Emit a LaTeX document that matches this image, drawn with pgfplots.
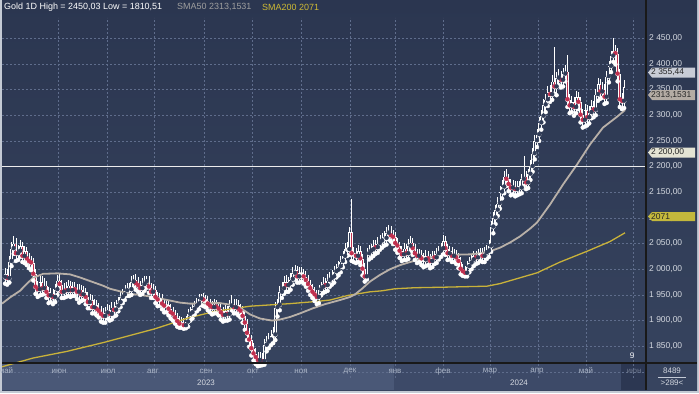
\documentclass[border=0pt]{standalone}
\usepackage{fontspec}
\setmainfont{Liberation Sans}
\usepackage{pgfplots}
\usepackage{pgfplotstable}
\pgfplotsset{compat=1.18}
\definecolor{frame}{HTML}{C4CAD4}
\definecolor{bgtop}{HTML}{2B3650}
\definecolor{bgbot}{HTML}{37445F}
\definecolor{bgmid}{HTML}{313D58}
\definecolor{band23}{HTML}{4A5877}
\definecolor{band24}{HTML}{3D4A68}
\definecolor{junbox}{HTML}{2C3752}
\definecolor{gridc}{HTML}{5F6D8C}
\definecolor{candred}{HTML}{C0304F}
\definecolor{sma50}{HTML}{B8B0A8}
\definecolor{sma200}{HTML}{C9B23A}
\definecolor{ticktext}{HTML}{D4D8E0}
\definecolor{monthtext}{HTML}{A9B3C5}
\definecolor{tagA}{HTML}{C8CCD6}
\definecolor{tagB}{HTML}{B4ACA4}
\definecolor{tagC}{HTML}{E4E4D4}
\definecolor{tagD}{HTML}{C4B83C}
\pgfplotstableread{
o h l c
1984 2002 1972 1990
1990 2001 1970 1982
1982 2026 1974 2015
2015 2054 2006 2040
2040 2064 2030 2050
2050 2060 2016 2030
2030 2048 2018 2035
2035 2056 2024 2045
2045 2054 2014 2025
2025 2046 2012 2035
2035 2044 2008 2020
2020 2032 2002 2015
2015 2026 1998 2012
2012 2022 1978 1990
1990 2000 1952 1965
1965 1978 1946 1960
1960 1988 1949 1975
1975 1986 1950 1962
1962 1982 1952 1968
1968 1978 1944 1955
1955 1966 1934 1948
1948 1964 1936 1952
1952 1962 1932 1945
1945 1971 1936 1960
1960 1988 1950 1978
1978 1991 1958 1970
1970 1980 1944 1955
1955 1974 1944 1962
1962 1976 1946 1958
1958 1980 1948 1968
1968 1978 1946 1958
1958 1976 1948 1965
1965 1976 1948 1960
1960 1972 1942 1955
1955 1972 1935 1960
1960 1970 1938 1950
1950 1968 1940 1955
1955 1964 1932 1945
1945 1956 1924 1935
1935 1952 1924 1940
1940 1950 1914 1925
1925 1942 1914 1930
1930 1940 1910 1922
1922 1934 1906 1918
1918 1928 1898 1912
1912 1924 1896 1908
1908 1926 1896 1915
1915 1932 1904 1920
1920 1930 1900 1912
1912 1936 1902 1925
1925 1936 1908 1920
1920 1940 1910 1928
1928 1946 1918 1935
1935 1956 1926 1945
1945 1962 1934 1950
1950 1970 1940 1958
1958 1974 1948 1962
1962 1974 1948 1960
1960 1986 1950 1975
1975 1988 1964 1980
1980 1990 1960 1972
1972 1984 1956 1968
1968 1978 1950 1962
1962 1982 1952 1970
1970 1986 1958 1975
1975 1987 1964 1978
1978 1986 1954 1965
1965 1974 1944 1955
1955 1972 1944 1960
1960 1968 1934 1945
1945 1956 1928 1940
1940 1954 1929 1942
1942 1952 1922 1932
1932 1942 1916 1928
1928 1942 1916 1930
1930 1940 1910 1922
1922 1932 1904 1915
1915 1926 1900 1912
1912 1921 1894 1905
1905 1914 1888 1898
1898 1908 1886 1893
1893 1906 1886 1895
1895 1905 1884 1890
1890 1908 1885 1897
1897 1922 1888 1912
1912 1926 1900 1915
1915 1934 1904 1922
1922 1938 1912 1928
1928 1944 1918 1932
1932 1952 1922 1942
1942 1952 1930 1945
1945 1954 1928 1940
1940 1950 1926 1938
1938 1948 1920 1932
1932 1942 1916 1928
1928 1938 1912 1925
1925 1942 1914 1930
1930 1940 1914 1926
1926 1936 1910 1922
1922 1932 1902 1915
1915 1926 1898 1910
1910 1930 1900 1918
1918 1928 1900 1912
1912 1940 1902 1928
1928 1950 1918 1932
1932 1942 1914 1925
1925 1942 1914 1930
1930 1940 1910 1922
1922 1932 1906 1918
1918 1928 1896 1908
1908 1918 1882 1895
1895 1904 1862 1875
1875 1886 1849 1862
1862 1872 1832 1845
1845 1856 1822 1835
1835 1846 1815 1828
1828 1838 1811 1822
1822 1838 1812 1825
1825 1836 1813 1820
1820 1864 1814 1852
1852 1870 1840 1858
1858 1876 1846 1862
1862 1882 1852 1870
1870 1888 1856 1872
1872 1936 1862 1925
1925 1942 1908 1930
1930 1968 1920 1955
1955 1976 1944 1962
1962 1986 1952 1975
1975 1988 1956 1968
1968 1984 1956 1972
1972 1992 1960 1980
1980 2004 1970 1992
1992 2008 1980 1998
1998 2006 1974 1985
1985 2004 1974 1992
1992 2004 1976 1990
1990 2000 1972 1985
1985 1996 1966 1978
1978 1988 1958 1970
1970 1980 1950 1962
1962 1972 1944 1955
1955 1966 1938 1950
1950 1960 1932 1945
1945 1970 1934 1960
1960 1976 1949 1965
1965 1984 1954 1972
1972 1982 1956 1968
1968 1990 1958 1978
1978 1994 1966 1982
1982 1998 1970 1985
1985 2006 1974 1995
1995 2010 1984 1998
1998 2016 1988 2005
2005 2026 1994 2015
2015 2036 2004 2025
2025 2052 2014 2040
2040 2054 2026 2038
2038 2082 2028 2072
2072 2136 2016 2030
2030 2044 2014 2028
2028 2042 2012 2025
2025 2048 2014 2035
2035 2046 2008 2020
2020 2030 1988 2000
2000 2012 1976 1985
1985 2042 1980 2030
2030 2048 2019 2035
2035 2050 2022 2038
2038 2056 2026 2045
2045 2056 2030 2042
2042 2062 2032 2050
2050 2066 2038 2055
2055 2070 2042 2058
2058 2074 2046 2060
2060 2082 2048 2070
2070 2087 2058 2075
2075 2084 2054 2065
2065 2076 2049 2062
2062 2072 2038 2050
2050 2061 2032 2045
2045 2054 2022 2035
2035 2046 2016 2028
2028 2052 2018 2040
2040 2050 2018 2030
2030 2058 2020 2045
2045 2064 2034 2052
2052 2061 2028 2040
2040 2050 2018 2030
2030 2040 2012 2025
2025 2040 2014 2028
2028 2038 2008 2020
2020 2032 2004 2018
2018 2038 2006 2025
2025 2036 2008 2020
2020 2030 2002 2015
2015 2036 2004 2025
2025 2036 2010 2022
2022 2042 2012 2030
2030 2046 2019 2035
2035 2052 2024 2040
2040 2067 2030 2055
2055 2064 2028 2040
2040 2050 2018 2030
2030 2046 2019 2035
2035 2044 2014 2025
2025 2040 2014 2028
2028 2038 2010 2022
2022 2032 2002 2015
2015 2024 1990 2000
2000 2010 1987 1995
1995 2006 1986 1992
1992 2016 1986 2005
2005 2024 1994 2012
2012 2030 2000 2018
2018 2036 2006 2025
2025 2036 2010 2022
2022 2040 2012 2028
2028 2042 2016 2030
2030 2042 2014 2025
2025 2044 2014 2032
2032 2048 2020 2035
2035 2056 2024 2045
2045 2094 2034 2082
2082 2112 2070 2100
2100 2126 2088 2115
2115 2140 2104 2128
2128 2162 2118 2150
2150 2174 2138 2160
2160 2192 2148 2180
2180 2195 2162 2175
2175 2186 2152 2165
2165 2176 2144 2158
2158 2174 2146 2162
2162 2172 2142 2155
2155 2172 2144 2160
2160 2172 2146 2158
2158 2186 2148 2175
2175 2220 2162 2180
2180 2192 2156 2168
2168 2196 2158 2185
2185 2212 2174 2200
2200 2236 2190 2225
2225 2262 2214 2250
2250 2274 2238 2262
2262 2296 2250 2285
2285 2310 2272 2298
2298 2332 2286 2320
2320 2342 2306 2330
2330 2356 2318 2345
2345 2358 2326 2340
2340 2378 2330 2365
2365 2432 2342 2355
2355 2384 2339 2372
2372 2390 2359 2375
2375 2386 2354 2368
2368 2392 2356 2380
2380 2398 2366 2385
2385 2418 2316 2330
2330 2342 2304 2318
2318 2338 2306 2325
2325 2336 2299 2315
2315 2348 2304 2335
2335 2346 2312 2325
2325 2336 2286 2300
2300 2312 2276 2290
2290 2322 2278 2310
2310 2320 2280 2295
2295 2318 2284 2305
2305 2330 2294 2318
2318 2328 2296 2310
2310 2352 2300 2340
2340 2372 2328 2360
2360 2370 2332 2345
2345 2364 2334 2350
2350 2360 2322 2335
2335 2386 2324 2375
2375 2406 2364 2395
2395 2426 2384 2415
2415 2450 2404 2425
2425 2436 2399 2420
2420 2430 2366 2380
2380 2390 2316 2330
2330 2344 2312 2327
2327 2368 2314 2355
}\gold
\pgfplotstablecreatecol[create col/expr={5+2.18*\pgfplotstablerow}]{x}\gold
\pgfplotstablecreatecol[create col/expr={min(\thisrow{o},\thisrow{c})}]{bl}\gold
\pgfplotstablecreatecol[create col/expr={abs(\thisrow{c}-\thisrow{o})}]{bh}\gold
\pgfplotstablecreatecol[create col/expr={\thisrow{h}-\thisrow{l}}]{wr}\gold
\pgfplotstablecreatecol[create col/expr={\thisrow{o}-\thisrow{c}}]{dn}\gold

\begin{document}
\begin{tikzpicture}[x=1bp,y=1bp]
\useasboundingbox (0,0) rectangle (699,393);
\fill[frame] (0,0) rectangle (699,393);
\shade[top color=bgtop, bottom color=bgbot] (2,3) rectangle (697,393);
\fill[band23] (2,3) rectangle (394,30);
\fill[band24] (394,3) rectangle (621,30);
\fill[junbox] (621,3) rectangle (646,30);

\begin{axis}[at={(2,30)}, anchor=south west, scale only axis,
  width=644bp, height=360bp,
  xmin=2, xmax=646, ymin=1788.9, ymax=2490.2,
  axis line style={draw=none}, major tick length=0pt,
  grid=major, major grid style={color=gridc, dash pattern=on 2bp off 2bp, line width=0.6bp},
  xtick={58,107,154,204,252.7,301.7,350,395.7,443.3,490,538,586,633},
  xticklabels={},
  ytick={1800,1850,...,2450},
  yticklabels={{},{1 850,00},{1 900,00},{1 950,00},{2 000,00},{2 050,00},{2 100,00},{2 150,00},{2 200,00},{2 250,00},{2 300,00},{2 350,00},{2 400,00},{2 450,00}},
  yticklabel pos=right,
  yticklabel style={anchor=west, inner sep=0pt, xshift=3bp, text=ticktext, font=\fontsize{8.5}{10}\selectfont},
]
% wicks
\addplot[white, only marks, mark=none, forget plot,
  error bars/.cd, y dir=plus, y explicit, error mark=none,
  error bar style={color=white, line width=0.7bp}]
  table[x=x, y=l, y error plus=wr] {\gold};
% bodies
\addplot[white, only marks, mark=none, forget plot,
  error bars/.cd, y dir=plus, y explicit, error mark=none,
  error bar style={color=white, line width=2.6bp}]
  table[x=x, y=bl, y error plus=bh] {\gold};
% down interiors
\addplot[candred, only marks, mark=none, forget plot,
  restrict expr to domain={\thisrow{dn}}{2.5:3000},
  error bars/.cd, y dir=plus, y explicit, error mark=none,
  error bar style={color=candred, line width=0.9bp}]
  table[x=x, y expr=\thisrow{c}+1.2, y error plus expr=\thisrow{dn}-2.4] {\gold};
% up interiors
\addplot[bgmid, only marks, mark=none, forget plot,
  restrict expr to domain={\thisrow{dn}}{-3000:-2.5},
  error bars/.cd, y dir=plus, y explicit, error mark=none,
  error bar style={color=bgmid, line width=0.8bp}]
  table[x=x, y expr=\thisrow{o}+1.2, y error plus expr=-\thisrow{dn}-2.4] {\gold};
% SMA200
\addplot[sma200, line width=1.3bp, mark=none] coordinates {
(2,1810)(33,1827)(67,1840)(105,1858)(155,1884)(188,1905)(215,1918)(250,1928)(290,1933)(315,1937)(330,1940)(348,1949)(370,1956)(382,1958)(395,1962)(415,1964)(443,1965)(487,1967)(500,1972)(537,1993)(560,2014)(587,2035)(610,2054)(625,2071)};
% SMA50
\addplot[sma50, line width=1.8bp, mark=none] coordinates {
(2,1933)(10,1945)(20,1958)(27,1972)(33,1983)(43,1991)(57,1992)(70,1990)(80,1984)(90,1977)(103,1968)(110,1962)(120,1957)(130,1952)(140,1950)(150,1947)(160,1943)(170,1939)(180,1935)(190,1933)(200,1933)(210,1934)(220,1934)(230,1931)(240,1925)(250,1912)(260,1904)(272,1900)(280,1902)(290,1907)(300,1914)(313,1924)(325,1932)(340,1940)(350,1946)(355,1951)(362,1962)(370,1976)(380,1989)(390,2000)(400,2008)(410,2014)(420,2019)(430,2023)(440,2026)(450,2028)(470,2029)(480,2031)(490,2035)(500,2042)(510,2052)(520,2064)(530,2079)(537,2091)(550,2126)(563,2165)(577,2204)(590,2243)(603,2276)(617,2297)(625,2310)};
% horizontal level
\addplot[color=white!85!gray, line width=0.9bp, mark=none] coordinates {(2,2200)(646,2200)};
\end{axis}

% separators
\draw[black!90, line width=1.4bp] (646,3) -- (646,393);
\draw[black!90, line width=1.4bp] (2,30) -- (697,30);

% top legend
\node[anchor=west, inner sep=0pt, text=white, font=\fontsize{9}{10}\selectfont] at (4,386) {Gold 1D High = 2450,03 Low = 1810,51};
\node[anchor=west, inner sep=0pt, text=gray!75, font=\fontsize{9}{10}\selectfont] at (177,386) {SMA50 2313,1531};
\node[anchor=west, inner sep=0pt, text=sma200!90!yellow, font=\fontsize{9}{10}\selectfont] at (262,386) {SMA200 2071};

% price tags
\begin{scope}[font=\fontsize{8.5}{10}\selectfont]
\fill[tagA] (648,320.5) -- (652,325.5) -- (695,325.5) -- (695,315.5) -- (652,315.5) -- cycle;
\node[anchor=west, inner sep=0pt, text=black!85] at (651,320.5) {2 355,44};
\fill[tagB] (648,298) -- (652,303) -- (695,303) -- (695,293) -- (652,293) -- cycle;
\node[anchor=west, inner sep=0pt, text=black!85] at (651,298) {2313,1531};
\fill[tagC] (648,240.5) -- (652,245.5) -- (695,245.5) -- (695,235.5) -- (652,235.5) -- cycle;
\node[anchor=west, inner sep=0pt, text=black!85] at (651,240.5) {2 200,00};
\fill[tagD] (648,176.5) -- (652,181) -- (695,181) -- (695,172) -- (652,172) -- cycle;
\node[anchor=west, inner sep=0pt, text=black!85] at (651,176.5) {2071};
\end{scope}

% bottom labels
\begin{scope}[font=\fontsize{8}{9}\selectfont, text=monthtext, inner sep=0pt]
\node at (6,22) {май};
\node at (59,22) {июн};
\node at (108,22) {июл};
\node at (153,22) {авг};
\node at (206,22) {сен};
\node at (253,22) {окт};
\node at (301,22) {ноя};
\node at (350,22) {дек};
\node at (395,22) {янв};
\node at (443,22) {фев};
\node at (490,22) {мар};
\node at (537,22) {апр};
\node at (586,22) {май};
\node[text=monthtext!50!junbox] at (634,22) {июн};
\node[text=ticktext] at (206,10) {2023};
\node[text=ticktext] at (519,10) {2024};
\node[text=ticktext] at (672,22) {8489};
\node[text=ticktext] at (672,10) {>289<};
\node[text=white] at (632,37) {9};
\end{scope}
\draw[monthtext!70, line width=0.5bp] (658,16) -- (686,16);
\end{tikzpicture}
\end{document}
